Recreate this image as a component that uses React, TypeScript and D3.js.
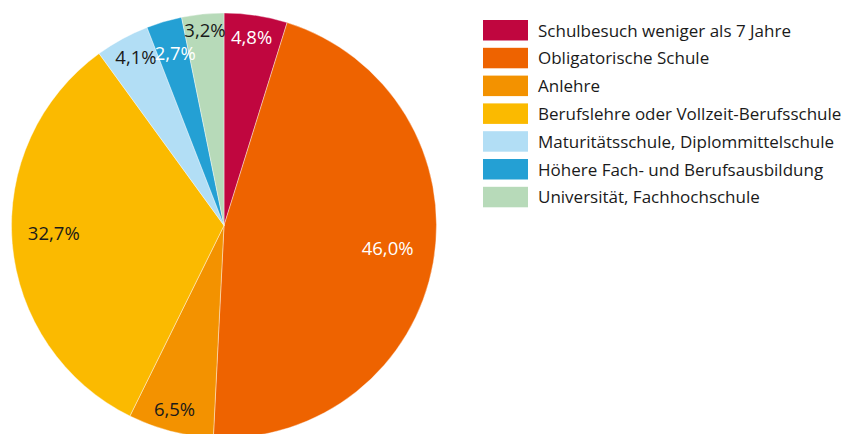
import React from 'react';
import * as d3 from 'd3';

const width = 842;
const height = 434;

const categories = [
  'Schulbesuch weniger als 7 Jahre',
  'Obligatorische Schule',
  'Anlehre',
  'Berufslehre oder Vollzeit-Berufsschule',
  'Maturitätsschule, Diplommittelschule',
  'Höhere Fach- und Berufsausbildung',
  'Universität, Fachhochschule'
];
const values = [4.8, 46.0, 6.5, 32.7, 4.1, 2.7, 3.2];
const colors = ['#C0063F', '#EE6300', '#F39200', '#FBBA00', '#B2DEF5', '#24A0D4', '#B7DAB9'];
const labelColors = ['#fff', '#fff', '#1a1a1a', '#1a1a1a', '#1a1a1a', '#fff', '#1a1a1a'];
// label distance from the centre, as a share of the radius
const labelRadius = [0.865, 0.782, 0.925, 0.804, 0.865, 0.813, 0.893];

const cx = 224;
const cy = 225.5;
const radius = 212.5;
const font = "'Open Sans', sans-serif";

const fmt = (v: number) => v.toFixed(1).replace('.', ',') + '%';

const App = () => {
  const data = categories.map((c, i) => ({ name: c, value: values[i], i }));
  const arcs = d3.pie<any>().sort(null).value(d => d.value)(data);
  const arc = d3.arc<any>().innerRadius(0).outerRadius(radius);

  const legendY = d3.scaleBand().domain(categories).range([20, 20 + 27.8 * 7]).paddingInner(0);

  return (
    <svg width={width} height={height} style={{ position: 'absolute', left: 0, top: 0, background: '#fff' }}>
      <g transform={`translate(${cx},${cy})`}>
        {arcs.map((a, i) => (
          <path key={i} d={arc(a) as string} fill={colors[i]} stroke="#fff" strokeWidth={0.4} />
        ))}
        {arcs.map((a, i) => {
          const mid = (a.startAngle + a.endAngle) / 2;
          const r = radius * labelRadius[i];
          return (
            <text
              key={i}
              x={Math.sin(mid) * r}
              y={-Math.cos(mid) * r}
              textAnchor="middle"
              fontFamily={font}
              fontSize={18.5}
              fill={labelColors[i]}
            >
              {fmt(a.data.value)}
            </text>
          );
        })}
      </g>
      <g>
        {categories.map((c, i) => (
          <g key={c} transform={`translate(483,${legendY(c)})`}>
            <rect width={45} height={20.5} fill={colors[i]} />
            <text x={55} y={16.5} fontFamily={font} fontSize={17} fill="#1a1a1a">{c}</text>
          </g>
        ))}
      </g>
    </svg>
  );
};

export default App;
